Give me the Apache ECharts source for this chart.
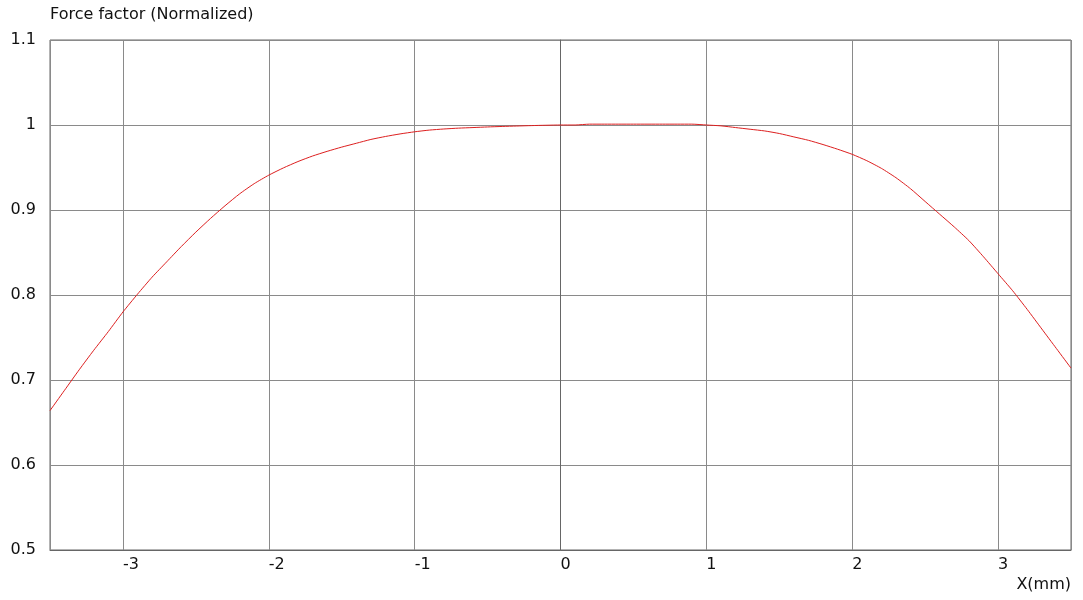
<!DOCTYPE html>
<html>
<head>
<meta charset="utf-8">
<title>Force factor</title>
<script src="https://cdn.jsdelivr.net/npm/echarts@6/dist/echarts.min.js"></script>
<style>
    html, body { margin: 0; padding: 0; background: #fff; }
    #chart { width: 1083px; height: 600px; }
</style>
</head>
<body>
<div id="chart"></div>
<script>
// x position in mm
var xPos = [-3.5, -3.4, -3.3, -3.2, -3.1, -3.0, -2.9, -2.8, -2.7, -2.6,
            -2.5, -2.4, -2.3, -2.2, -2.1, -2.0, -1.9, -1.8, -1.7, -1.6,
            -1.5, -1.4, -1.3, -1.2, -1.1, -1.0, -0.9, -0.8, -0.7, -0.6,
            -0.5, -0.4, -0.3, -0.2, -0.1, 0.0, 0.1, 0.2, 0.3, 0.4,
            0.5, 0.6, 0.7, 0.8, 0.9, 1.0, 1.1, 1.2, 1.3, 1.4,
            1.5, 1.6, 1.7, 1.8, 1.9, 2.0, 2.1, 2.2, 2.3, 2.4,
            2.5, 2.6, 2.7, 2.8, 2.9, 3.0, 3.1, 3.2, 3.3, 3.4, 3.5];

// normalized force factor
var forceFactor = [0.664, 0.688, 0.712, 0.735, 0.757, 0.780, 0.801, 0.821, 0.839, 0.857,
                   0.874, 0.890, 0.905, 0.919, 0.931, 0.941, 0.9495, 0.957, 0.9635, 0.969,
                   0.974, 0.9785, 0.983, 0.9865, 0.9895, 0.992, 0.994, 0.9953, 0.9963, 0.997,
                   0.9977, 0.9983, 0.9988, 0.9993, 0.9997, 1.000, 1.000, 1.001, 1.001, 1.001,
                   1.001, 1.001, 1.001, 1.001, 1.001, 1.000, 0.999, 0.997, 0.995, 0.993,
                   0.990, 0.986, 0.982, 0.977, 0.9715, 0.9655, 0.958, 0.949, 0.938, 0.925,
                   0.910, 0.895, 0.880, 0.864, 0.845, 0.825, 0.805, 0.783, 0.760, 0.737, 0.714];

var yTitle = 'Force factor (Normalized)';
var xTitle = 'X(mm)';

var points = [];
for (var i = 0; i < xPos.length; i++) {
    points.push([xPos[i], forceFactor[i]]);
}

var font = 'DejaVu Sans, Verdana, sans-serif';

var chart = echarts.init(document.getElementById('chart'));
var option = {
    animation: false,
    backgroundColor: '#fff',
    textStyle: { fontFamily: font },
    title: [
        {
            text: yTitle,
            left: 50,
            top: 7,
            padding: 0,
            textStyle: { fontFamily: font, fontSize: 16, fontWeight: 'normal', color: '#111' }
        },
        {
            text: xTitle,
            right: 12,
            top: 577,
            padding: 0,
            textStyle: { fontFamily: font, fontSize: 16, fontWeight: 'normal', color: '#111' }
        }
    ],
    grid: {
        left: 50,
        right: 12,
        top: 40,
        bottom: 50,
        show: true,
        borderColor: '#666',
        borderWidth: 1,
        containLabel: false
    },
    xAxis: {
        type: 'value',
        min: -3.5,
        max: 3.5,
        splitNumber: 7,
        minInterval: 1,
        maxInterval: 1,
        axisLine: { show: true, onZero: false, lineStyle: { color: '#666' } },
        axisTick: { show: false },
        splitLine: { show: true, lineStyle: { color: '#8a8a8a', width: 1 } },
        axisLabel: {
            showMinLabel: false,
            showMaxLabel: false,
            align: 'left',
            margin: 7,
            fontSize: 16,
            color: '#111',
            fontFamily: font
        }
    },
    yAxis: {
        type: 'value',
        min: 0.5,
        max: 1.1,
        interval: 0.1,
        axisLine: { show: true, lineStyle: { color: '#666' } },
        axisTick: { show: false },
        splitLine: { show: true, lineStyle: { color: '#8a8a8a', width: 1 } },
        axisLabel: {
            margin: 14,
            fontSize: 16,
            color: '#111',
            fontFamily: font,
            formatter: function (v) {
                return String(Math.round(v * 10) / 10);
            }
        }
    },
    series: [
        {
            type: 'line',
            data: points,
            showSymbol: false,
            smooth: 0.2,
            lineStyle: { color: '#dd1f1f', width: 1 },
            z: 3
        }
    ]
};
chart.setOption(option);
</script>
</body>
</html>
